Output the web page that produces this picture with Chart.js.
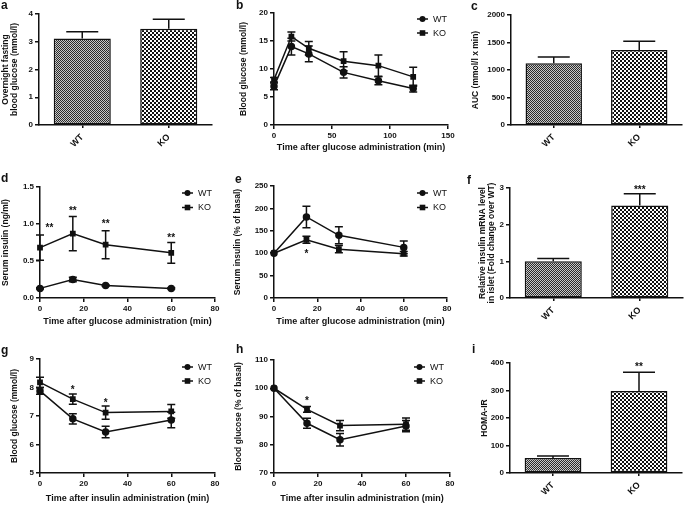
<!DOCTYPE html>
<html><head><meta charset="utf-8">
<script src="https://cdn.jsdelivr.net/npm/chart.js@4/dist/chart.umd.min.js"></script>
<style>
html,body{margin:0;padding:0;background:#fff;}
#wrap{position:relative;width:685px;height:505px;overflow:hidden;background:#fff;}
canvas{position:absolute;}
</style></head><body><div id="wrap"></div>
<script>
// ---------- DATA ----------
const groups = ['WT', 'KO'];

// a: overnight fasting blood glucose (mmol/l)
const fastingGlucose = [3.12, 3.47];
const fastingGlucoseErr = [0.24, 0.34];

// b: OGTT blood glucose (mmol/l)
const ogttTime = [0, 15, 30, 60, 90, 120];
const ogttWT = [6.9, 14.0, 12.7, 9.4, 7.9, 6.5];
const ogttWTErr = [0.6, 1.5, 1.4, 1.0, 0.7, 0.6];
const ogttKO = [8.1, 15.8, 13.7, 11.4, 10.6, 8.6];
const ogttKOErr = [0.4, 0.8, 1.2, 1.7, 1.9, 1.7];

// c: AUC (mmol/l x min)
const aucValues = [1125, 1365];
const aucErr = [110, 160];

// d: serum insulin (ng/ml)
const insTime = [0, 15, 30, 60];
const insWT = [0.13, 0.25, 0.17, 0.13];
const insWTErr = [0.01, 0.03, 0.01, 0.01];
const insKO = [0.68, 0.87, 0.72, 0.61];
const insKOErr = [0.17, 0.23, 0.19, 0.14];

// e: serum insulin (% of basal)
const insPctWT = [100, 181, 140, 113];
const insPctWTErr = [0, 24, 19, 14];
const insPctKO = [100, 130, 109, 99];
const insPctKOErr = [0, 8, 8, 5];

// f: relative insulin mRNA level in islet
const mrnaValues = [1.0, 2.52];
const mrnaErr = [0.08, 0.32];

// g: ITT blood glucose (mmol/l)
const ittTime = [0, 15, 30, 60];
const ittWT = [7.88, 6.9, 6.44, 6.86];
const ittWTErr = [0.12, 0.18, 0.2, 0.27];
const ittKO = [8.18, 7.59, 7.12, 7.16];
const ittKOErr = [0.18, 0.18, 0.23, 0.24];

// h: ITT blood glucose (% of basal)
const ittPctWT = [100, 87.6, 81.8, 86.6];
const ittPctWTErr = [0, 1.8, 2.2, 2.0];
const ittPctKO = [100, 92.5, 86.8, 87.3];
const ittPctKOErr = [0, 1.0, 1.8, 2.2];

// i: HOMA-IR
const homaValues = [55, 298];
const homaErr = [7, 68];

// significance marks
const starsD = [{x: 4.3, y: 0.98, t: '**'}, {x: 15, y: 1.21, t: '**'}, {x: 30, y: 1.04, t: '**'}, {x: 60, y: 0.85, t: '**'}];
const starsE = [{x: 15, y: 104, t: '*'}];
const starsF = [{x: 1, y: 3.03, t: '***'}];
const starsG = [{x: 15, y: 8.01, t: '*'}, {x: 30, y: 7.57, t: '*'}];
const starsH = [{x: 15, y: 96.7, t: '*'}];
const starsI = [{x: 1, y: 395, t: '**'}];

// ---------- HELPERS ----------
const INK = '#111';
const FONT = '"Liberation Sans", Arial, sans-serif';
Chart.defaults.font.family = FONT;
Chart.defaults.color = INK;

function makePattern(cell, dark, light) {
  const c = document.createElement('canvas');
  c.width = c.height = cell * 2;
  const x = c.getContext('2d');
  x.fillStyle = light; x.fillRect(0, 0, cell * 2, cell * 2);
  x.fillStyle = dark; x.fillRect(0, 0, cell, cell); x.fillRect(cell, cell, cell, cell);
  return x.createPattern(c, 'repeat');
}
const patWT = makePattern(1, '#2a2a2a', '#c8c8c8');
const patKO = makePattern(2, '#111', '#fff');

function overlay(p) {
  return {
    id: 'overlay_' + p.letter,
    afterDatasetsDraw(chart) {
      const ctx = chart.ctx, yS = chart.scales.y;
      ctx.save();
      ctx.strokeStyle = INK; ctx.lineWidth = 1.5;
      chart.data.datasets.forEach((ds, i) => {
        if (!ds.errorBars) return;
        const meta = chart.getDatasetMeta(i);
        meta.data.forEach((el, j) => {
          const raw = ds.data[j];
          const v = typeof raw === 'object' ? raw.y : raw;
          const e = ds.errorBars[j];
          if (!e) return;
          const px = el.x;
          const yTop = yS.getPixelForValue(v + e);
          const yBot = p.type === 'bar' ? yS.getPixelForValue(v) : yS.getPixelForValue(v - e);
          const half = p.type === 'bar' ? 16 : 4;
          ctx.beginPath();
          ctx.moveTo(px, yTop); ctx.lineTo(px, yBot);
          ctx.moveTo(px - half, yTop); ctx.lineTo(px + half, yTop);
          if (p.type !== 'bar') { ctx.moveTo(px - half, yBot); ctx.lineTo(px + half, yBot); }
          ctx.stroke();
        });
      });
      ctx.restore();
    },
    afterDraw(chart) {
      const ctx = chart.ctx, xS = chart.scales.x, yS = chart.scales.y;
      ctx.save();
      ctx.fillStyle = INK;
      // panel letter (position relative to this panel's canvas)
      ctx.font = 'bold 12px ' + FONT;
      ctx.textAlign = 'left'; ctx.textBaseline = 'alphabetic';
      ctx.fillText(p.letter, p.letterPos[0], p.letterPos[1]);
      // stars
      ctx.font = 'bold 10px ' + FONT;
      ctx.textAlign = 'center';
      (p.stars || []).forEach(s => {
        ctx.fillText(s.t, xS.getPixelForValue(s.x), yS.getPixelForValue(s.y) + 6);
      });
      // legend
      if (p.legend) {
        const L = p.legend;
        ['WT', 'KO'].forEach((name, k) => {
          const y = L.y + k * L.dy;
          ctx.strokeStyle = INK; ctx.lineWidth = 1.5;
          ctx.beginPath(); ctx.moveTo(L.x, y); ctx.lineTo(L.x + L.len, y); ctx.stroke();
          const cx = L.x + L.len / 2;
          ctx.beginPath();
          if (k === 0) ctx.arc(cx, y, 3, 0, Math.PI * 2);
          else ctx.rect(cx - 2.8, y - 2.8, 5.6, 5.6);
          ctx.fill();
          ctx.font = '9px ' + FONT;
          ctx.textAlign = 'left'; ctx.textBaseline = 'middle';
          ctx.fillText(name, L.x + L.len + 5, y + 0.5);
        });
      }
      ctx.restore();
    }
  };
}

function lineDatasets(time, wt, wtErr, ko, koErr) {
  const pts = (arr) => time.map((t, i) => ({x: t, y: arr[i]}));
  const common = {borderColor: INK, backgroundColor: INK, borderWidth: 1.5, pointRadius: 3, clip: false, tension: 0};
  return [
    Object.assign({label: 'WT', data: pts(wt), errorBars: wtErr, pointStyle: 'circle'}, common),
    Object.assign({label: 'KO', data: pts(ko), errorBars: koErr, pointStyle: 'rect', pointRadius: 4}, common)
  ];
}

function makePanel(p) {
  const [bx, by, bw, bh] = p.box;
  const c = document.createElement('canvas');
  c.width = bw; c.height = bh;
  c.style.left = bx + 'px'; c.style.top = by + 'px';
  document.getElementById('wrap').appendChild(c);
  const A = p.area;
  const tickFont = {size: 8, weight: 'bold'};
  const titleFont = {size: 8.5, weight: 'bold', lineHeight: 1.1};
  const yScale = {
    min: p.y.min, max: p.y.max,
    ticks: {stepSize: p.y.step, color: INK, font: tickFont, padding: 2,
      callback: p.y.fmt ? (v) => p.y.fmt(v) : undefined},
    grid: {drawOnChartArea: false, drawTicks: true, tickLength: 4, color: INK, lineWidth: 1.5},
    border: {display: true, color: INK, width: 1.5},
    title: {display: true, text: p.y.title, color: INK, font: titleFont, padding: {top: p.y.tpad, bottom: 0}},
    afterFit(s) { s.width = A.left - bx; }
  };
  let xScale, data;
  if (p.type === 'bar') {
    xScale = {
      type: 'category', offset: true,
      grid: {offset: false, drawOnChartArea: false, drawTicks: true, tickLength: 3, color: INK, lineWidth: 1.5},
      border: {display: true, color: INK, width: 1.5},
      ticks: {minRotation: 45, maxRotation: 45, color: INK, font: {size: 9, weight: 'bold'}, padding: 4},
      afterFit(s) { s.height = by + bh - A.bottom; }
    };
    data = {labels: groups, datasets: [{
      data: p.values, errorBars: p.errors,
      backgroundColor: [patWT, patKO], borderColor: INK, borderWidth: 1.5,
      borderSkipped: false, barPercentage: 0.66, categoryPercentage: 1.0
    }]};
  } else {
    xScale = {
      type: 'linear', min: p.x.min, max: p.x.max,
      ticks: {stepSize: p.x.step, color: INK, font: tickFont, padding: 2},
      grid: {drawOnChartArea: false, drawTicks: true, tickLength: 4, color: INK, lineWidth: 1.5},
      border: {display: true, color: INK, width: 1.5},
      title: {display: true, text: p.x.title, color: INK, font: {size: 9, weight: 'bold'}, padding: {top: 0, bottom: p.x.tpad}},
      afterFit(s) { s.height = by + bh - A.bottom; }
    };
    data = {datasets: p.datasets};
  }
  new Chart(c, {
    type: p.type,
    data: data,
    options: {
      responsive: false, animation: false, devicePixelRatio: 1,
      layout: {padding: {top: A.top - by, right: bx + bw - A.right, left: 0, bottom: 0}},
      plugins: {legend: {display: false}, tooltip: {enabled: false}},
      scales: {x: xScale, y: yScale}
    },
    plugins: [overlay(p)]
  });
}

// ---------- PANELS ----------
const glucoseTitle = 'Time after glucose administration (min)';
const insulinTitle = 'Time after insulin administration (min)';

makePanel({letter: 'a', letterPos: [1, 9], type: 'bar', box: [0, 0, 225, 165],
  area: {left: 39, top: 14, right: 212, bottom: 125},
  values: fastingGlucose, errors: fastingGlucoseErr,
  y: {min: 0, max: 4, step: 1, title: ['Overnight fasting', 'blood glucose (mmol/l)'], tpad: 1}});

makePanel({letter: 'b', letterPos: [11, 9], type: 'line', box: [225, 0, 235, 165],
  area: {left: 274, top: 13, right: 448, bottom: 125},
  datasets: lineDatasets(ogttTime, ogttWT, ogttWTErr, ogttKO, ogttKOErr),
  x: {min: 0, max: 150, step: 50, title: glucoseTitle, tpad: 12},
  y: {min: 0, max: 20, step: 5, title: 'Blood glucose (mmol/l)', tpad: 14},
  legend: {x: 192, y: 19, dy: 14, len: 11}});

makePanel({letter: 'c', letterPos: [11, 10], type: 'bar', box: [460, 0, 225, 165],
  area: {left: 511, top: 15, right: 682, bottom: 125},
  values: aucValues, errors: aucErr,
  y: {min: 0, max: 2000, step: 500, title: 'AUC (mmol/l x min)', tpad: 11}});

makePanel({letter: 'd', letterPos: [1, 17], type: 'line', box: [0, 165, 225, 170],
  area: {left: 40, top: 187, right: 215, bottom: 298},
  datasets: lineDatasets(insTime, insWT, insWTErr, insKO, insKOErr),
  x: {min: 0, max: 80, step: 20, title: glucoseTitle, tpad: 8},
  y: {min: 0, max: 1.5, step: 0.5, title: 'Serum insulin (ng/ml)', tpad: 1, fmt: (v) => v.toFixed(1)},
  stars: starsD,
  legend: {x: 182, y: 28, dy: 14.5, len: 11}});

makePanel({letter: 'e', letterPos: [10, 18], type: 'line', box: [225, 165, 235, 170],
  area: {left: 274, top: 186, right: 447, bottom: 298},
  datasets: lineDatasets(insTime, insPctWT, insPctWTErr, insPctKO, insPctKOErr),
  x: {min: 0, max: 80, step: 20, title: glucoseTitle, tpad: 8},
  y: {min: 0, max: 250, step: 50, title: 'Serum insulin (% of basal)', tpad: 8},
  stars: starsE,
  legend: {x: 192, y: 28, dy: 14.5, len: 11}});

makePanel({letter: 'f', letterPos: [7, 19], type: 'bar', box: [460, 165, 225, 170],
  area: {left: 510, top: 188, right: 683, bottom: 298},
  values: mrnaValues, errors: mrnaErr,
  y: {min: 0, max: 3, step: 1, title: ['Relative insulin mRNA level', 'in islet (Fold change over WT)'], tpad: 18},
  stars: starsF});

makePanel({letter: 'g', letterPos: [1, 19], type: 'line', box: [0, 335, 225, 170],
  area: {left: 40, top: 359, right: 215, bottom: 473},
  datasets: lineDatasets(ittTime, ittWT, ittWTErr, ittKO, ittKOErr),
  x: {min: 0, max: 80, step: 20, title: insulinTitle, tpad: 1},
  y: {min: 5, max: 9, step: 1, title: 'Blood glucose (mmol/l)', tpad: 10},
  stars: starsG,
  legend: {x: 182, y: 32, dy: 14, len: 11}});

makePanel({letter: 'h', letterPos: [11, 18], type: 'line', box: [225, 335, 235, 170],
  area: {left: 274, top: 360, right: 450, bottom: 473},
  datasets: lineDatasets(ittTime, ittPctWT, ittPctWTErr, ittPctKO, ittPctKOErr),
  x: {min: 0, max: 80, step: 20, title: insulinTitle, tpad: 1},
  y: {min: 70, max: 110, step: 10, title: 'Blood glucose (% of basal)', tpad: 9},
  stars: starsH,
  legend: {x: 189, y: 32, dy: 14, len: 11}});

makePanel({letter: 'i', letterPos: [12, 18], type: 'bar', box: [460, 335, 225, 170],
  area: {left: 510, top: 363, right: 682, bottom: 473},
  values: homaValues, errors: homaErr,
  y: {min: 0, max: 400, step: 100, title: 'HOMA-IR', tpad: 20},
  stars: starsI});
</script></body></html>
